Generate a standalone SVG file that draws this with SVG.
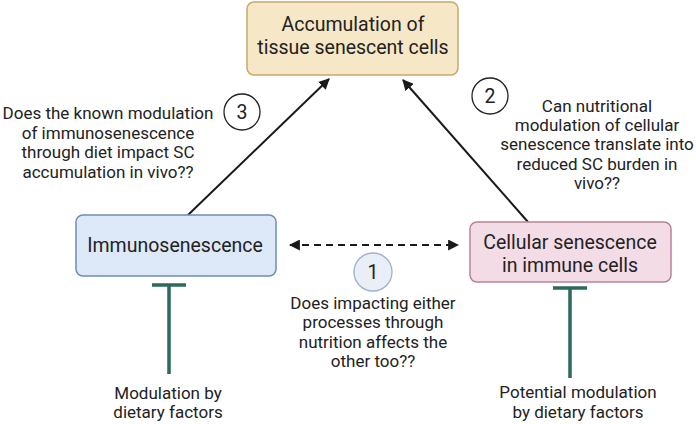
<svg xmlns="http://www.w3.org/2000/svg" width="696" height="424" viewBox="0 0 696 424">
<defs>
<style>
text{font-family:Roboto,"Liberation Sans",sans-serif;fill:#222;text-anchor:middle}
.lbl{font-size:19.5px}
.q{font-size:17px}
.box{stroke-width:1.5}
.num{fill:#fff;stroke:#222;stroke-width:1.3}
.conn{stroke:#1a1a1a;stroke-width:2;fill:none}
.inh{stroke:#2b6a5c;stroke-width:3.5;fill:none}
</style>
<marker id="ah" viewBox="0 0 10 10" refX="9" refY="5" markerWidth="5.5" markerHeight="5.5" orient="auto-start-reverse" markerUnits="strokeWidth">
<path d="M0,0 L10,5 L0,10 Z" fill="#1a1a1a"/>
</marker>
</defs>

<g id="connectors">
<line class="conn" x1="188" y1="215" x2="329" y2="79" marker-end="url(#ah)"/>
<line class="conn" x1="528" y1="222" x2="403" y2="80" marker-end="url(#ah)"/>
<line class="conn" x1="290" y1="245" x2="458" y2="245" stroke-width="2.5" stroke-dasharray="7 5" marker-start="url(#ah)" marker-end="url(#ah)"/>
<path class="inh" d="M169,374 V285 M152,285 H186"/>
<path class="inh" d="M570,378 V288 M553,288 H587"/>
</g>

<g id="node-accumulation">
<rect class="box" x="247" y="2" width="211" height="73" rx="7" fill="#f6e7c6" stroke="#c9a86c"/>
<text class="lbl" x="353" y="31">Accumulation of</text>
<text class="lbl" x="353" y="54">tissue senescent cells</text>
</g>

<g id="node-immunosenescence">
<rect class="box" x="76" y="215" width="200" height="61" rx="7" fill="#dde9f8" stroke="#6f8db0"/>
<text class="lbl" x="175" y="252">Immunosenescence</text>
</g>

<g id="node-cellular">
<rect class="box" x="470" y="222" width="201" height="60" rx="7" fill="#f4dce7" stroke="#b9819a"/>
<text class="lbl" x="570" y="249">Cellular senescence</text>
<text class="lbl" x="570" y="272">in immune cells</text>
</g>

<g id="node-q3">
<circle class="num" cx="242" cy="112" r="18"/>
<text class="lbl" x="242" y="119">3</text>
<text class="q" x="108" y="119">Does the known modulation</text>
<text class="q" x="108" y="139">of immunosenescence</text>
<text class="q" x="108" y="158">through diet impact SC</text>
<text class="q" x="108" y="178">accumulation in vivo??</text>
</g>

<g id="node-q2">
<circle class="num" cx="490" cy="96" r="18"/>
<text class="lbl" x="490" y="103">2</text>
<text class="q" x="597" y="112">Can nutritional</text>
<text class="q" x="597" y="131">modulation of cellular</text>
<text class="q" x="597" y="150">senescence translate into</text>
<text class="q" x="597" y="170">reduced SC burden in</text>
<text class="q" x="597" y="189">vivo??</text>
</g>

<g id="node-q1">
<circle cx="373" cy="272" r="19" fill="#e9eef7" stroke="#9fb0cf" stroke-width="1.3"/>
<text class="lbl" x="373" y="279">1</text>
<text class="q" x="373" y="309">Does impacting either</text>
<text class="q" x="373" y="328">processes through</text>
<text class="q" x="373" y="348">nutrition affects the</text>
<text class="q" x="373" y="367">other too??</text>
</g>

<g id="node-mod-left">
<text class="q" x="168" y="399">Modulation by</text>
<text class="q" x="168" y="418">dietary factors</text>
</g>

<g id="node-mod-right">
<text class="q" x="578" y="398">Potential modulation</text>
<text class="q" x="578" y="418">by dietary factors</text>
</g>
</svg>
